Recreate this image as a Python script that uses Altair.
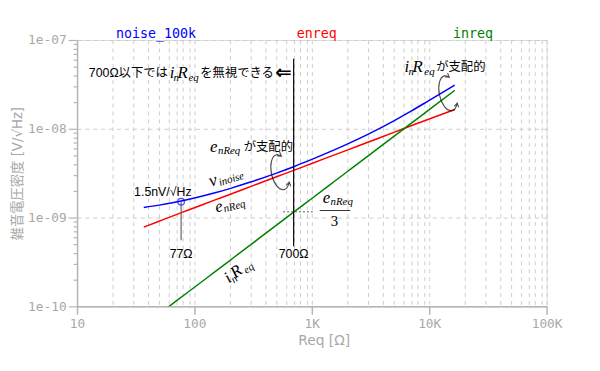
import altair as alt
import pandas as pd

# ---------------- data ----------------
req = [37, 50, 70, 100, 150, 200, 300, 500, 700, 1000, 1500, 2000, 3000,
       5000, 7000, 10000, 16500]
noise_100k = [1.30e-9, 1.38e-9, 1.50e-9, 1.66e-9, 1.90e-9, 2.12e-9, 2.51e-9,
              3.17e-9, 3.74e-9, 4.52e-9, 5.67e-9, 6.72e-9, 8.66e-9, 1.23e-8,
              1.58e-8, 2.09e-8, 3.10e-8]
enreq = [7.8e-10, 9.1e-10, 1.08e-9, 1.29e-9, 1.58e-9, 1.82e-9, 2.23e-9,
         2.88e-9, 3.40e-9, 4.07e-9, 4.98e-9, 5.75e-9, 7.05e-9, 9.10e-9,
         1.08e-8, 1.29e-8, 1.65e-8]
inreq = [6.1e-11, 8.2e-11, 1.15e-10, 1.64e-10, 2.46e-10, 3.28e-10, 4.92e-10,
         8.2e-10, 1.15e-9, 1.64e-9, 2.46e-9, 3.28e-9, 4.92e-9, 8.2e-9,
         1.15e-8, 1.64e-8, 2.71e-8]
series = ["noise_100k", "enreq", "inreq"]
series_colors = ["#0000ff", "#ff0000", "#008000"]
series_label_x = [47, 1100, 23600]
series_label_y = 1.17e-7

x_ticks = [m * d for d in [10, 100, 1000, 10000] for m in range(1, 10)] + [100000]
y_ticks = [m * d for d in [1e-10, 1e-9, 1e-8] for m in range(1, 10)] + [1e-7]

marker_r = [77]
marker_v = [1.51e-9]
vline_x = [77, 700]
vline_top = [1.51e-9, 6.15e-8]
vline_bottom = [5.55e-10, 4.76e-10]
vline_colors = ["#666666", "#000000"]

SANS = "Liberation Sans, Noto Sans CJK JP"
AXSANS = "DejaVu Sans, Noto Sans CJK JP"
SERIF = "Liberation Serif"
MONO = "DejaVu Sans Mono"
GRAY = "#a8a8a8"
FRAME = "#b4b4b4"

xs = alt.Scale(type="log", domain=[10, 100000], nice=False)
ys = alt.Scale(type="log", domain=[1e-10, 1e-7], nice=False)

rows = []
for name, vals in zip(series, [noise_100k, enreq, inreq]):
    for r, v in zip(req, vals):
        rows.append({"x": r, "y": v, "series": name})
df = pd.DataFrame(rows)

DEC = "abs(log(datum.value)/LN10 - round(log(datum.value)/LN10)) < 0.001"
EXP = "(-round(log(datum.value)/LN10))"

x_axis = alt.Axis(
    values=x_ticks, title="Req [Ω]",
    labelExpr=f"({DEC}) ? (datum.value >= 1000 ? format(datum.value/1000, 'd') + 'K' : format(datum.value, 'd')) : ''",
    labelFont=MONO, labelFontSize=13, labelColor=GRAY, labelFlush=False,
    labelOverlap=False, labelPadding=3,
    tickSize={"condition": {"test": DEC, "value": 8}, "value": 0},
    tickColor=FRAME, tickWidth=1.5,
    grid=True, gridDash=[4, 4], gridColor="#cccccc", gridWidth=1,
    domainColor=FRAME, domainWidth=1.5,
    titleFont=AXSANS, titleFontSize=14, titleColor=GRAY, titleFontWeight="normal",
    titleX=250, titleY=35, titleBaseline="middle", titleAlign="center",
)
y_axis = alt.Axis(
    values=y_ticks, title="雑音電圧密度 [V/√Hz]",
    labelExpr=f"({DEC}) ? '1e-' + ({EXP} < 10 ? '0' : '') + {EXP} : ''",
    labelFont=MONO, labelFontSize=13, labelColor=GRAY, labelOverlap=False,
    labelPadding=2,
    tickSize={"condition": {"test": DEC, "value": 9}, "value": 4},
    tickColor=FRAME, tickWidth=1.2,
    grid=True, gridDash=[4, 4], gridColor="#cccccc", gridWidth=1,
    gridOpacity={"condition": {"test": DEC, "value": 1}, "value": 0},
    domainColor=FRAME, domainWidth=1.5,
    titleFont=AXSANS, titleFontSize=13.5, titleColor=GRAY, titleFontWeight="normal",
    titleX=-60, titleY=135, titleAngle=270, titleBaseline="middle", titleAlign="center",
)

color_scale = alt.Scale(domain=series, range=series_colors)

lines = alt.Chart(df).mark_line(clip=True, strokeWidth=1.5, interpolate="monotone").encode(
    x=alt.X("x:Q", scale=xs, axis=x_axis),
    y=alt.Y("y:Q", scale=ys, axis=y_axis),
    color=alt.Color("series:N", scale=color_scale, legend=None),
)

labels_df = pd.DataFrame({"x": series_label_x, "y": [series_label_y] * 3, "series": series})
series_labels = alt.Chart(labels_df).mark_text(
    font=MONO, fontSize=13.5, baseline="middle", align="center"
).encode(
    x=alt.X("x:Q", scale=xs), y=alt.Y("y:Q", scale=ys),
    text="series:N", color=alt.Color("series:N", scale=color_scale, legend=None),
)

vl_df = pd.DataFrame({"x": vline_x, "y": vline_top, "y2": vline_bottom, "c": vline_colors})
vlines = alt.Chart(vl_df).mark_rule(strokeWidth=1.2).encode(
    x=alt.X("x:Q", scale=xs), y=alt.Y("y:Q", scale=ys), y2="y2:Q",
    color=alt.Color("c:N", scale=None),
)

# dotted guide at enReq/3 and the fraction bar
hl_df = pd.DataFrame({"x": [570], "x2": [1040], "y": [1.16e-9]})
dotted = alt.Chart(hl_df).mark_rule(strokeWidth=1, strokeDash=[2, 2], color="#555555").encode(
    x=alt.X("x:Q", scale=xs), x2="x2:Q", y=alt.Y("y:Q", scale=ys))
bar_df = pd.DataFrame({"x": [1167], "x2": [2128], "y": [1.20e-9]})
frac_bar = alt.Chart(bar_df).mark_rule(strokeWidth=1, color="#333333").encode(
    x=alt.X("x:Q", scale=xs), x2="x2:Q", y=alt.Y("y:Q", scale=ys))

mk_df = pd.DataFrame({"x": marker_r, "y": marker_v})
marker = alt.Chart(mk_df).mark_point(shape="circle", filled=False, size=45,
                                     color="#0000ff", strokeWidth=1.2).encode(
    x=alt.X("x:Q", scale=xs), y=alt.Y("y:Q", scale=ys))

ROT = ("M0.25,-0.866 C0.174,-0.954 0.088,-1 0,-1 C-0.276,-1 -0.5,-0.552 -0.5,0 "
       "C-0.5,0.552 -0.276,1 0,1 C0.148,1 0.288,0.869 0.383,0.643 "
       "M0.014,-0.952 L0.25,-0.866 L0.203,-1.116 "
       "M0.184,0.794 L0.383,0.643 L0.415,0.891")
rot_df = pd.DataFrame({"x": [538, 14500], "y": [3.24e-9, 2.51e-8]})
rot_marks = alt.Chart(rot_df).mark_point(shape=ROT, size=1300, filled=False, color="black",
                                         strokeWidth=1.1, angle=348).encode(
    x=alt.X("x:Q", scale=xs), y=alt.Y("y:Q", scale=ys))


def txt(x, y, text, dx=0, dy=0, size=12.5, font=SANS, style="normal",
        weight="normal", align="left", angle=0, color="black"):
    d = pd.DataFrame({"x": [x], "y": [y], "t": [text]})
    return alt.Chart(d).mark_text(
        dx=dx, dy=dy, fontSize=size, font=font, fontStyle=style, fontWeight=weight,
        align=align, baseline="middle", angle=angle % 360, color=color,
    ).encode(x=alt.X("x:Q", scale=xs), y=alt.Y("y:Q", scale=ys), text="t:N")


def math(x, y, pieces, angle=0):
    out = []
    for t, dx, dy, size in pieces:
        out.append(txt(x, y, t, dx=dx, dy=dy, size=size, font=SERIF, style="italic", angle=angle))
    return out


ann = []
# 700Ω以下では i_n R_eq を無視できる ⇐
ann.append(txt(12.6, 4.19e-8, "700Ω以下では", size=12.5))
ann += math(61.5, 4.19e-8, [("i", 0, 0, 17), ("n", 4, 5, 11), ("R", 8, 0, 17), ("eq", 19, 5, 11)])
ann.append(txt(112, 4.19e-8, "を無視できる", size=12.5))
ann.append(txt(575, 4.19e-8, "⇐", size=20, font="DejaVu Sans", weight="bold", align="center"))
# e_nReq が支配的
ann += math(136, 6.15e-9, [("e", 0, 0, 17), ("nReq", 8, 4, 11)])
ann.append(txt(136, 6.15e-9, "が支配的", dx=34, size=12.5))
# i_n R_eq が支配的
ann += math(6170, 5.01e-8, [("i", 0, 0, 17), ("n", 4, 5, 11), ("R", 8, 0, 17), ("eq", 20, 5, 11)])
ann.append(txt(6170, 5.01e-8, "が支配的", dx=32, size=12.5))
# v_inoise along the blue curve
ann += math(134, 2.51e-9, [("v", 0, 0, 18), ("inoise", 9, 4, 11)], angle=-17)
# e_nReq below the red line
ann += math(150, 1.29e-9, [("e", 0, 0, 17), ("nReq", 8, 4, 11)], angle=-15)
# i_n R_eq along the green line
ann += math(186, 2.0e-10, [("i", 0, 0, 17), ("n", 4, 5, 11), ("R", 8, 0, 17), ("eq", 20, 5, 11)], angle=-37)
# fraction e_nReq / 3
ann += math(1236, 1.67e-9, [("e", 0, 0, 17), ("nReq", 8, 4, 11)])
ann.append(txt(1560, 9.03e-10, "3", size=15, font=SERIF, align="center"))
# marker labels
ann.append(txt(53.8, 1.94e-9, "1.5nV/√Hz", align="center"))
ann.append(txt(77, 3.88e-10, "77Ω", align="center"))
ann.append(txt(700, 3.88e-10, "700Ω", align="center"))

chart = alt.layer(
    lines, series_labels, vlines, dotted, frac_bar, marker, rot_marks, *ann
).properties(
    width=476, height=270,
    autosize=alt.AutoSizeParams(type="none"),
    padding={"left": 70, "top": 30, "right": 46, "bottom": 55},
).configure_view(stroke=FRAME, strokeWidth=1.5).configure(background="white")

chart.save("out.html", embed_options={"renderer": "svg", "actions": False})
